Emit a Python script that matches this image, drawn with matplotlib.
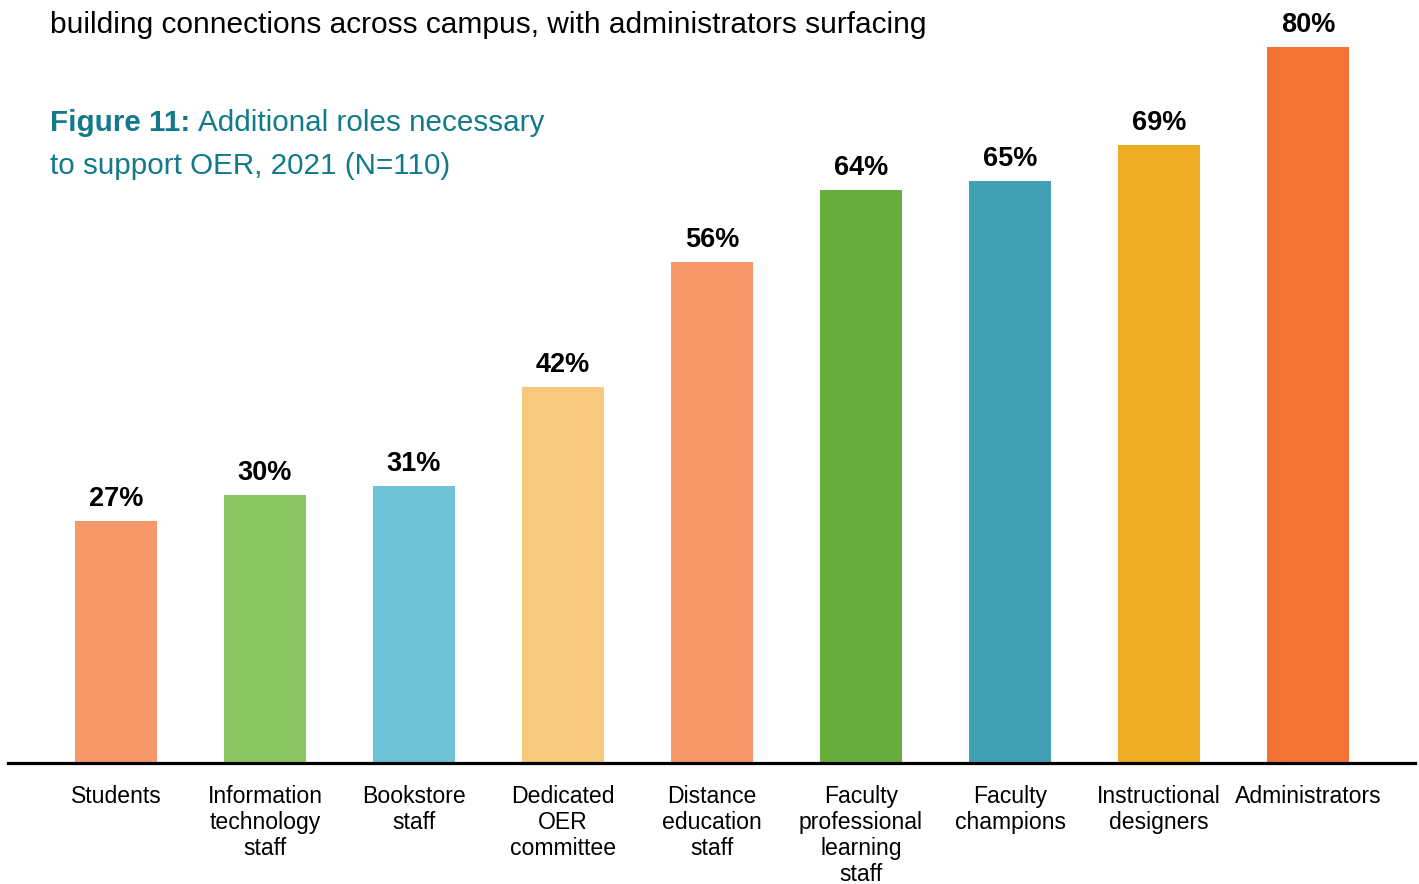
import numpy as np
import matplotlib.pyplot as plt

plt.rcParams['font.family'] = ['Liberation Sans', 'DejaVu Sans']

# data
roles = ["Students", "Information\ntechnology\nstaff", "Bookstore\nstaff",
         "Dedicated\nOER\ncommittee", "Distance\neducation\nstaff",
         "Faculty\nprofessional\nlearning\nstaff", "Faculty\nchampions",
         "Instructional\ndesigners", "Administrators"]
pct = [27, 30, 31, 42, 56, 64, 65, 69, 80]
colors = ["#F7986A", "#8CC665", "#6EC4D6", "#F6C97C", "#F7986A",
          "#68AE3E", "#42A0B4", "#EEAD24", "#F37335"]

W, H = 1419, 884
fig = plt.figure(figsize=(W / 100, H / 100), dpi=100)
base = 763
ax = fig.add_axes([0, (H - base) / H, 1, base / H])

x = np.arange(len(roles))
ax.bar(x, pct, width=0.544, color=colors)
ax.set_xlim((0 - 116) / 149, (W - 116) / 149)
ax.set_ylim(0, base / (716 / 80))

for xi, v in zip(x, pct):
    ax.text(xi, v + 1.0, f"{v}%", ha="center", va="bottom",
            fontsize=19.5, fontweight="bold")

for s in ["top", "right", "left"]:
    ax.spines[s].set_visible(False)
ax.spines["bottom"].set_linewidth(2.3)
ax.spines["bottom"].set_bounds((8 - 116) / 149, (1415 - 116) / 149)
ax.set_yticks([])
ax.set_xticks(x)
ax.set_xticklabels(roles, fontsize=16.6, linespacing=1.16, va="top")
ax.tick_params(axis="x", length=0, pad=16)
ax.patch.set_alpha(0)

fig.text(50 / W, 1 - 25 / H, "building connections across campus, with administrators surfacing",
         fontsize=21.5, va="center", ha="left")

teal = "#127A8A"
t1 = fig.text(50 / W, 1 - 123 / H, "Figure 11:", fontsize=21.3, fontweight="bold",
              color=teal, va="center", ha="left")
fig.canvas.draw()
bb = t1.get_window_extent()
fig.text(bb.x1 / W + 8 / W, 1 - 123 / H, "Additional roles necessary", fontsize=21.3,
         color=teal, va="center", ha="left")
fig.text(50 / W, 1 - 166 / H, "to support OER, 2021 (N=110)", fontsize=21.3,
         color=teal, va="center", ha="left")

fig.savefig("out.png", dpi=100)
